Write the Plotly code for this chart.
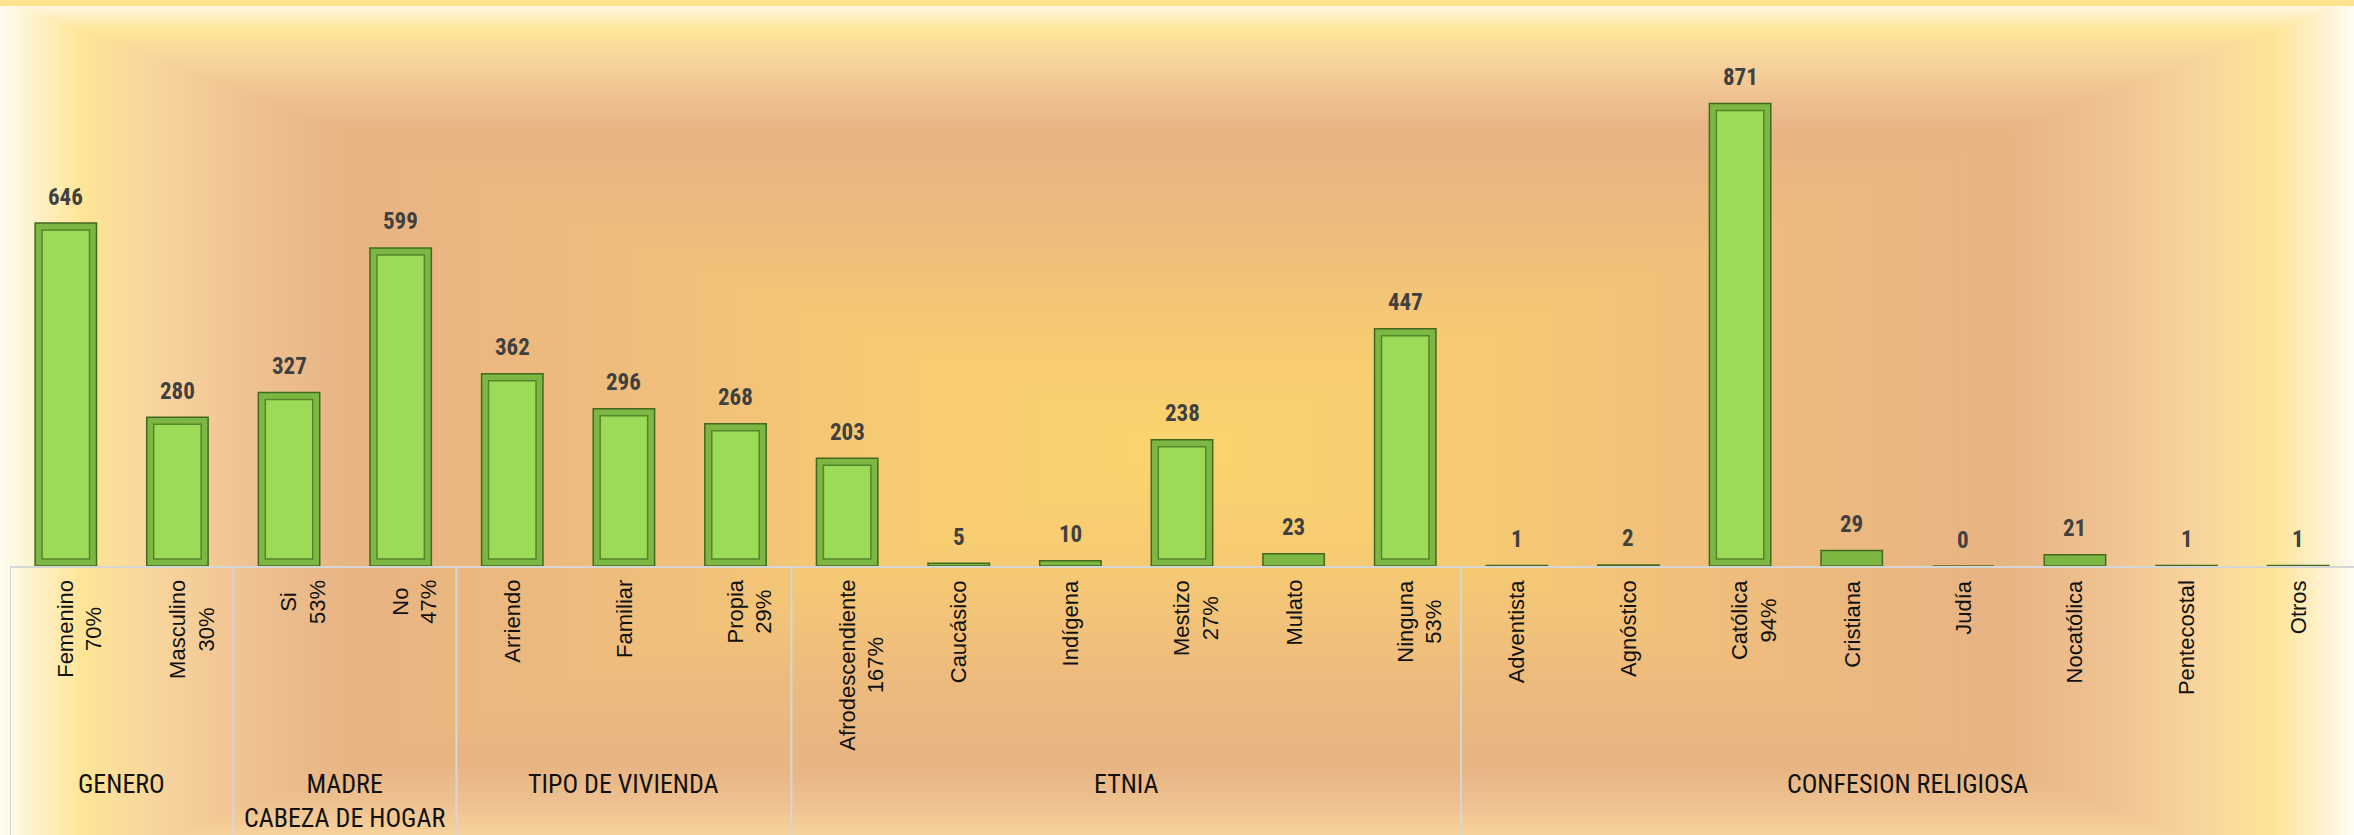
import base64
import struct
import zlib
import numpy as np
import plotly.graph_objects as go

# ---------------- data ----------------
categories = ["Femenino", "Masculino", "Si", "No", "Arriendo", "Familiar", "Propia",
              "Afrodescendiente", "Caucásico", "Indígena", "Mestizo", "Mulato", "Ninguna",
              "Adventista", "Agnóstico", "Católica", "Cristiana", "Judía", "Nocatólica",
              "Pentecostal", "Otros"]
values = [646, 280, 327, 599, 362, 296, 268, 203, 5, 10, 238, 23, 447,
          1, 2, 871, 29, 0, 21, 1, 1]
percent_labels = ["70%", "30%", "53%", "47%", "", "", "29%", "167%", "", "", "27%", "",
                  "53%", "", "", "94%", "", "", "", "", ""]
group_names = ["GENERO", "MADRE<br>CABEZA DE HOGAR", "TIPO DE VIVIENDA", "ETNIA",
               "CONFESION RELIGIOSA"]
group_sizes = [2, 2, 3, 6, 8]

# ---------------- figure geometry ----------------
W, H = 2354, 835
ML, MR, MT, MB = 10, 0, 0, 269
PW, PH = W - ML - MR, H - MT - MB
Y_MAX = 1066

NARROW = "Liberation Sans Narrow, Arial Narrow, Roboto Condensed, Liberation Sans, Arial, sans-serif"
SANS = "Liberation Sans, Arial, sans-serif"


# ---------------- background gradient (rectangular path gradient) ----------------
def png_data_uri(arr):
    a = np.clip(arr, 0, 255).astype(np.uint8)
    h, w, _ = a.shape
    rows = []
    prev = np.zeros((w * 3,), dtype=np.int16)
    for i in range(h):
        cur = a[i].reshape(-1).astype(np.int16)
        rows.append(b"\x02" + ((cur - prev) % 256).astype(np.uint8).tobytes())
        prev = cur
    raw = b"".join(rows)

    def chunk(t, data):
        c = struct.pack(">I", len(data)) + t + data
        return c + struct.pack(">I", zlib.crc32(t + data) & 0xFFFFFFFF)

    png = (b"\x89PNG\r\n\x1a\n"
           + chunk(b"IHDR", struct.pack(">IIBBBBB", w, h, 8, 2, 0, 0, 0))
           + chunk(b"IDAT", zlib.compress(raw, 9))
           + chunk(b"IEND", b""))
    return "data:image/png;base64," + base64.b64encode(png).decode()


sw, sh = W // 2, (H + 1) // 2
xs = (np.arange(sw) + 0.5) * W / sw
ys = (np.arange(sh) + 0.5) * H / sh
cx, cy, hw, hh = 1177.0, 450.0, 1177.0, 450.0
d = np.maximum((np.abs(xs - cx) / hw)[None, :], (np.abs(ys - cy) / hh)[:, None])
d = np.clip(d, 0, 1)
stop_pos = [0.0, 0.22, 0.52, 0.70, 0.79, 0.87, 0.93, 1.0]
stop_col = np.array([
    [250, 213, 110],
    [248, 204, 114],
    [237, 187, 127],
    [232, 180, 132],
    [240, 195, 146],
    [249, 214, 158],
    [254, 229, 150],
    [255, 252, 243],
], dtype=float)
img = np.zeros((sh, sw, 3))
for c in range(3):
    img[..., c] = np.interp(d, stop_pos, stop_col[:, c])
bg_uri = png_data_uri(img)

# ---------------- traces (bevelled bars: rim + inner face) ----------------
rim = 7.0 * Y_MAX / PH          # bevel thickness of ~7 px expressed in data units
inner_vals = [(v - 2 * rim) if v > 3 * rim else None for v in values]

fig = go.Figure()
fig.add_trace(go.Bar(
    x=categories, y=values, width=0.55,
    marker=dict(color="#7DB743", line=dict(color="#42691D", width=1.5)),
    hoverinfo="x+y", showlegend=False,
))
fig.add_trace(go.Bar(
    x=categories, y=inner_vals, base=rim, width=0.425,
    marker=dict(color="#9BDB58", line=dict(color="#55852A", width=1.5)),
    hoverinfo="skip", showlegend=False,
))

annotations = []
# value labels above bars
for c, v in zip(categories, values):
    annotations.append(dict(
        x=c, y=v, xref="x", yref="y", text=str(v), showarrow=False,
        yanchor="middle", yshift=26,
        font=dict(family=NARROW, size=23, color="#404040", weight="bold"),
    ))
# category labels (rotated) below the axis
for c, p in zip(categories, percent_labels):
    if p:
        annotations.append(dict(
            x=c, y=0, xref="x", yref="paper", text=c + "<br>" + p, showarrow=False,
            textangle=-90, yanchor="top", xanchor="left", xshift=-15, yshift=-12,
            align="center", font=dict(family=SANS, size=22, color="#111111"),
        ))
    else:
        annotations.append(dict(
            x=c, y=0, xref="x", yref="paper", text=c, showarrow=False,
            textangle=-90, yanchor="top", xanchor="center", yshift=-12,
            font=dict(family=SANS, size=22, color="#111111"),
        ))

# group labels and dividers
shapes = []
start = 0
bottom_paper = -MB / PH
shapes.append(dict(type="line", xref="x", yref="paper", x0=-0.5, x1=-0.5,
                   y0=0, y1=bottom_paper, line=dict(color="#D6D6D6", width=2)))
for name, size in zip(group_names, group_sizes):
    centre = start + (size - 1) / 2.0
    annotations.append(dict(
        x=centre, y=(-(767 - PH)) / PH, xref="x", yref="paper", text=name,
        showarrow=False, yanchor="top", xanchor="center", align="center",
        font=dict(family=NARROW, size=26, color="#111111"),
    ))
    end = start + size
    if end < len(categories):
        shapes.append(dict(type="line", xref="x", yref="paper", x0=end - 0.5, x1=end - 0.5,
                           y0=0, y1=bottom_paper, line=dict(color="#D6D6D6", width=2)))
    start = end

# top yellow strip
shapes.append(dict(type="rect", xref="paper", yref="paper",
                   x0=-ML / PW, x1=(PW + MR) / PW, y0=1, y1=1 - 6 / PH,
                   fillcolor="#FFE38F", line=dict(width=0), layer="above"))

fig.update_layout(
    width=W, height=H, autosize=False,
    margin=dict(l=ML, r=MR, t=MT, b=MB, pad=0),
    paper_bgcolor="rgba(0,0,0,0)", plot_bgcolor="rgba(0,0,0,0)",
    barmode="overlay",
    xaxis=dict(showticklabels=False, showgrid=False, zeroline=False, ticks="",
               showline=True, linecolor="#D6D6D6", linewidth=2,
               range=[-0.5, len(categories) - 0.5]),
    yaxis=dict(visible=False, range=[0, Y_MAX], showgrid=False, zeroline=False),
    annotations=annotations,
    shapes=shapes,
    images=[dict(source=bg_uri, xref="paper", yref="paper",
                 x=-ML / PW, y=1 + MT / PH, sizex=W / PW, sizey=H / PH,
                 xanchor="left", yanchor="top", sizing="stretch", layer="below")],
)

fig.write_html("out.html", config={"displayModeBar": False},
               post_script="document.body.style.margin='0px';")
